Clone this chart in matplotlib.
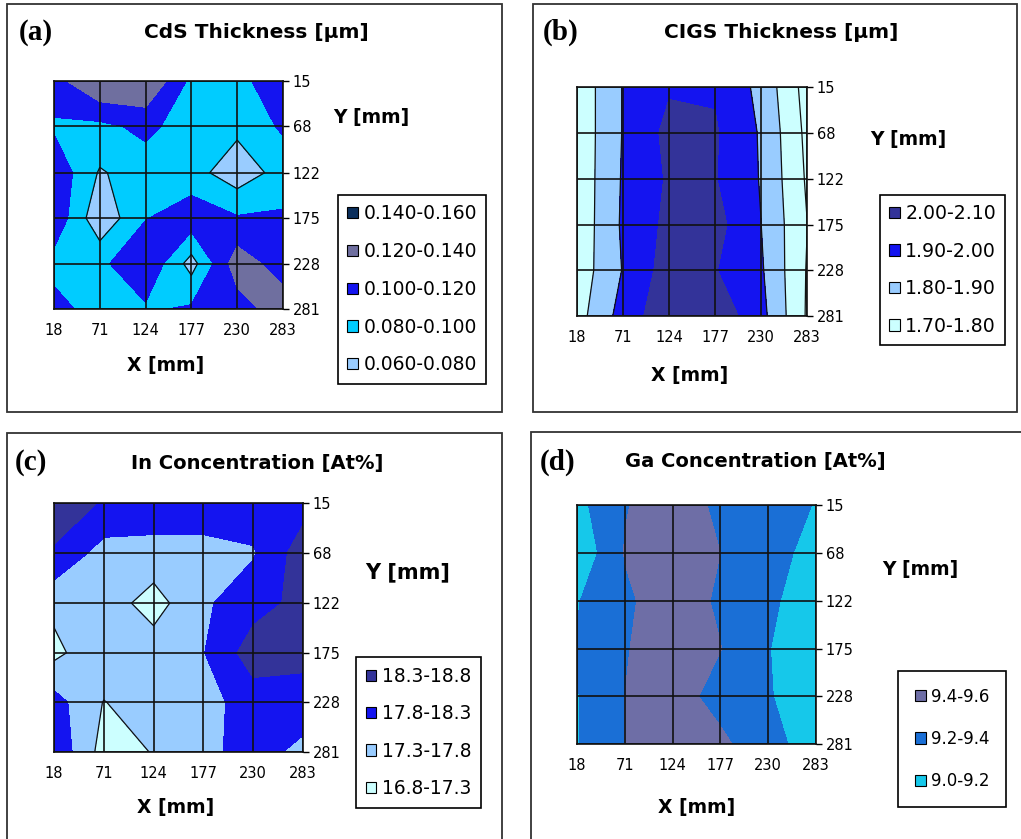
import numpy as np
import matplotlib
matplotlib.use("Agg")
import matplotlib.pyplot as plt
from matplotlib.patches import Patch, Rectangle

plt.rcParams['font.family'] = ['DejaVu Sans']

W, H = 1021, 839

x_mm = [18, 71, 124, 177, 230, 283]
y_mm = [15, 68, 122, 175, 228, 281]

# rows follow y_mm (top to bottom), columns follow x_mm
cds = np.array([
    [0.112, 0.141, 0.1405, 0.095, 0.093, 0.115],
    [0.097, 0.095, 0.105, 0.090, 0.085, 0.103],
    [0.115, 0.078, 0.090, 0.088, 0.068, 0.088],
    [0.115, 0.065, 0.099, 0.112, 0.102, 0.103],
    [0.092, 0.095, 0.118, 0.072, 0.131, 0.110],
    [0.108, 0.090, 0.097, 0.103, 0.110, 0.131],
])
cigs = np.array([
    [1.73, 1.905, 1.990, 1.990, 1.873, 1.660],
    [1.73, 1.905, 2.027, 2.010, 1.890, 1.676],
    [1.73, 1.910, 2.012, 2.005, 1.894, 1.688],
    [1.73, 1.915, 2.025, 2.035, 1.901, 1.702],
    [1.74, 1.905, 2.047, 2.005, 1.913, 1.694],
    [1.76, 1.940, 2.073, 2.069, 1.933, 1.690],
])
indium = np.array([
    [18.60, 18.25, 18.15, 18.15, 18.10, 18.10],
    [18.24, 17.60, 17.60, 17.60, 17.75, 18.55],
    [17.43, 17.55, 17.10, 17.72, 18.10, 18.45],
    [17.165, 17.70, 17.54, 17.78, 18.55, 18.50],
    [18.00, 17.28, 17.60, 17.60, 18.05, 18.00],
    [18.20, 17.10, 17.32, 17.70, 17.95, 17.70],
])
gallium = np.array([
    [9.14, 9.388, 9.50, 9.361, 9.300, 9.19],
    [9.04, 9.410, 9.50, 9.400, 9.300, 9.11],
    [9.188, 9.367, 9.50, 9.372, 9.250, 9.05],
    [9.21, 9.388, 9.50, 9.405, 9.205, 9.10],
    [9.19, 9.400, 9.48, 9.332, 9.212, 9.10],
    [9.19, 9.400, 9.50, 9.441, 9.270, 9.10],
])

cds_levels = [0.06, 0.08, 0.10, 0.12, 0.14, 0.16]
cds_labels = ['0.060-0.080', '0.080-0.100', '0.100-0.120', '0.120-0.140', '0.140-0.160']
cigs_levels = [1.6, 1.7, 1.8, 1.9, 2.0, 2.1]
cigs_labels = ['1.70-1.80', '1.80-1.90', '1.90-2.00', '2.00-2.10']
in_levels = [16.8, 17.3, 17.8, 18.3, 18.8]
in_labels = ['16.8-17.3', '17.3-17.8', '17.8-18.3', '18.3-18.8']
ga_levels = [9.0, 9.2, 9.4, 9.6]
ga_labels = ['9.0-9.2', '9.2-9.4', '9.4-9.6']

pale = '#CCFFFF'
light = '#99CCFF'
cyan = '#00CCFF'
blue = '#1414F0'
grayp = '#6F6F9F'
navy = '#333399'
dark = '#0B2F5C'
ga_cols = ['#16C8EA', '#1A6FD6', '#6E6EA6']

fig = plt.figure(figsize=(W / 100, H / 100), dpi=100)


def fx(px):
    return px / W


def fy(py):
    return 1 - py / H


def panel(box, plot, data, levels, colors, line_levels, legend_labels,
          legend_colors, legend_opts, letter, title, title_pos,
          ypos, xpos, lab_fs=13.5):
    # outer frame of the panel
    x0, y0, x1, y1 = box
    fig.patches.append(Rectangle((fx(x0), fy(y1)), fx(x1 - x0), (y1 - y0) / H,
                                 transform=fig.transFigure, fill=False,
                                 edgecolor='#333333', lw=1.3))
    px0, py0, px1, py1 = plot
    ax = fig.add_axes([fx(px0), fy(py1), fx(px1 - px0), (py1 - py0) / H])
    ax.contourf(x_mm, y_mm, data, levels=levels, colors=colors)
    if line_levels:
        ax.contour(x_mm, y_mm, data, levels=line_levels, colors='#111111',
                   linewidths=0.9)
    ax.set_xlim(18, 283)
    ax.set_ylim(281, 15)
    ax.set_xticks(x_mm)
    ax.set_yticks(y_mm)
    ax.yaxis.tick_right()
    ax.set_axisbelow(False)
    ax.grid(True, color='#111111', lw=1.2)
    ax.tick_params(axis='y', length=4, width=1, pad=3, labelsize=10.5)
    ax.tick_params(axis='x', length=0, pad=10, labelsize=10.5)
    for s in ax.spines.values():
        s.set_color('#111111')
        s.set_linewidth(1.2)

    fig.text(fx(title_pos[0]), fy(title_pos[1]), title, ha='center',
             va='center', fontsize=title_pos[2], fontweight='bold')
    fig.text(fx(letter[1]), fy(letter[2]), letter[0], ha='left', va='center',
             fontsize=21, fontweight='bold', family='Liberation Serif')
    fig.text(fx(ypos[0]), fy(ypos[1]), 'Y [mm]', ha='center', va='center',
             fontsize=lab_fs, fontweight='bold')
    fig.text(fx(xpos[0]), fy(xpos[1]), 'X [mm]', ha='center', va='center',
             fontsize=13.5, fontweight='bold')

    lx, ly, fs, ls, hl, bp = legend_opts
    handles = [Patch(facecolor=c, edgecolor='black', lw=0.8)
               for c in legend_colors[::-1]]
    leg = fig.legend(handles, legend_labels[::-1], loc='upper left',
                     bbox_to_anchor=(fx(lx), fy(ly)),
                     bbox_transform=fig.transFigure, borderaxespad=0,
                     frameon=True, fancybox=False, edgecolor='black',
                     framealpha=1, fontsize=fs, handlelength=hl,
                     handleheight=hl, handletextpad=0.3,
                     labelspacing=ls, borderpad=bp)
    leg.get_frame().set_linewidth(1.2)
    return ax


panel((7, 4, 502, 412), (54, 81, 283, 309), cds, cds_levels,
      [light, cyan, blue, grayp, dark], [0.08], cds_labels,
      [light, cyan, blue, grayp, dark], (338, 195, 13.5, 1.0, 0.55, 0.5),
      ('(a)', 19, 32), 'CdS Thickness [µm]', (256, 33, 14.5), (371, 118),
      (166, 365))

panel((533, 4, 1017, 412), (577, 87, 807, 316), cigs, cigs_levels,
      [pale, pale, light, blue, navy], [1.7, 1.8, 1.9], cigs_labels,
      [pale, light, blue, navy], (880, 195, 13.6, 0.98, 0.55, 0.49),
      ('(b)', 543, 32), 'CIGS Thickness [µm]', (781, 33, 14.5), (908, 140),
      (690, 375))

panel((7, 433, 502, 845), (54, 503, 303, 752), indium, in_levels,
      [pale, light, blue, navy], [17.3], in_labels,
      [pale, light, blue, navy], (356, 657, 13.4, 0.98, 0.55, 0.54),
      ('(c)', 15, 463), 'In Concentration [At%]', (257, 463, 14), (408, 572),
      (176, 808), lab_fs=15)

panel((531, 432, 1025, 845), (577, 505, 816, 744), gallium, ga_levels,
      ga_cols, None, ga_labels, ga_cols, (898, 671, 12, 1.45, 0.65, 1.0),
      ('(d)', 540, 462), 'Ga Concentration [At%]', (755, 462, 14), (920, 570),
      (697, 807))

fig.savefig('out.png', dpi=100)
